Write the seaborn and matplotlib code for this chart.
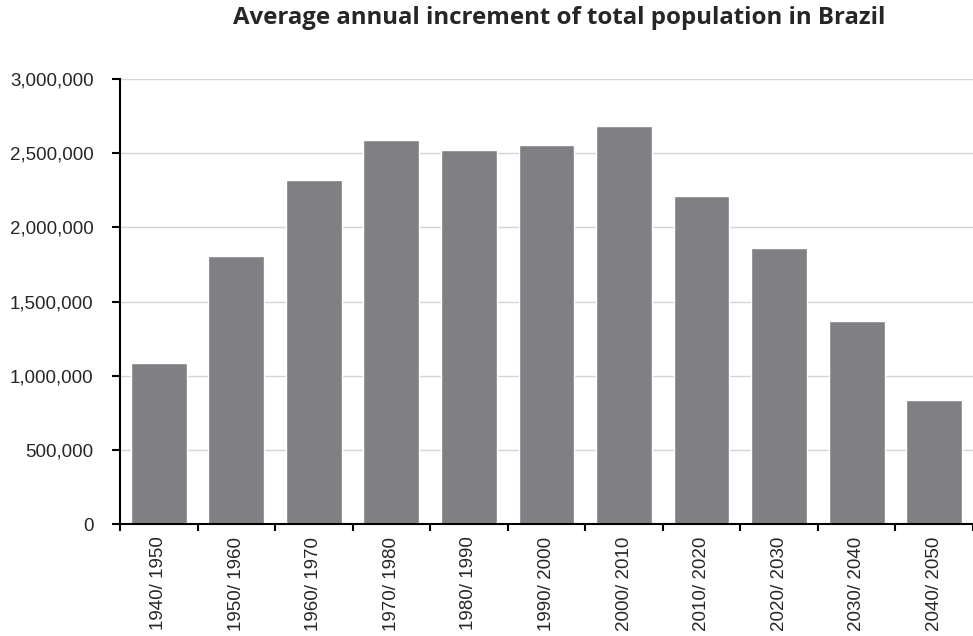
import matplotlib
matplotlib.use("Agg")

import matplotlib.pyplot as plt
import numpy as np
import pandas as pd
import seaborn as sns
from matplotlib.ticker import FuncFormatter

sns.set_theme(style="white")
plt.rcParams["font.family"] = ["Liberation Sans", "DejaVu Sans"]

# ── Data ─────────────────────────────────────────────────────────────────────
PERIODS = ["1940/ 1950", "1950/ 1960", "1960/ 1970", "1970/ 1980", "1980/ 1990",
           "1990/ 2000", "2000/ 2010", "2010/ 2020", "2020/ 2030", "2030/ 2040",
           "2040/ 2050"]
INCREMENT = [1085000, 1807000, 2319000, 2589000, 2521000, 2555000,
             2683000, 2211000, 1861000, 1369000, 836000]
Y_TICKS = [0, 500000, 1000000, 1500000, 2000000, 2500000, 3000000]

df = pd.DataFrame({"period": PERIODS, "increment": INCREMENT})

fig = plt.figure(figsize=(9.73, 6.36), dpi=100)
ax = fig.add_axes([0.1233, 0.176, 0.8767, 0.6998])

sns.barplot(data=df, x="period", y="increment", color="#808084",
            saturation=1, width=0.72, ax=ax, zorder=2)

ax.set_ylim(0, 3000000)
ax.set_xlim(-0.5, len(PERIODS) - 0.5)
ax.set_yticks(Y_TICKS)
ax.yaxis.set_major_formatter(FuncFormatter(lambda v, _: f"{int(v):,}"))
ax.grid(axis="y", color="#d4d4d4", lw=1, zorder=0)
ax.set_axisbelow(True)

# x tick marks sit between the categories
ax.set_xticks(np.arange(len(PERIODS)))
ax.set_xticklabels(PERIODS, rotation=90, fontsize=13.5)
ax.set_xticks(np.arange(-0.5, len(PERIODS)), minor=True)
ax.tick_params(axis="x", which="major", length=0, pad=9)
ax.tick_params(axis="x", which="minor", length=5, width=1.5, color="black",
               direction="out", bottom=True)
ax.tick_params(axis="y", length=6, width=1.5, color="black", direction="out",
               left=True, labelsize=13.5, pad=13)

for s in ["top", "right"]:
    ax.spines[s].set_visible(False)
for s in ["left", "bottom"]:
    ax.spines[s].set_color("black")
    ax.spines[s].set_linewidth(1.5)

ax.set_xlabel("")
ax.set_ylabel("")

fig.text(0.575, 0.972, "Average annual increment of total population in Brazil",
         ha="center", va="center", fontsize=17.3, fontweight="bold",
         family=["Open Sans", "DejaVu Sans"])

fig.savefig("out.png", dpi=100)
